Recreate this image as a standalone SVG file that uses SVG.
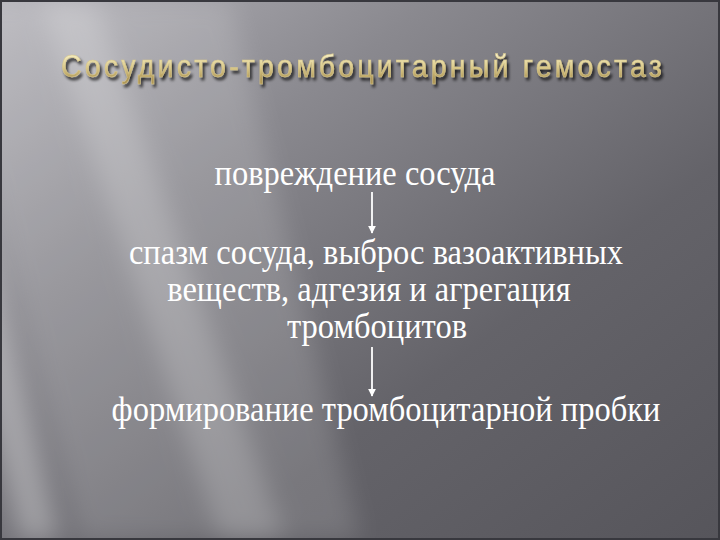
<svg xmlns="http://www.w3.org/2000/svg" width="720" height="540" viewBox="0 0 720 540">
  <defs>
    <linearGradient id="bg" x1="0" y1="0" x2="1" y2="1">
      <stop offset="0" stop-color="#b4b3b9"/>
      <stop offset="0.3" stop-color="#8a898f"/>
      <stop offset="0.65" stop-color="#646369"/>
      <stop offset="1" stop-color="#56555b"/>
    </linearGradient>
    <linearGradient id="title" x1="0" y1="-22" x2="0" y2="2" gradientUnits="userSpaceOnUse">
      <stop offset="0" stop-color="#f4ecc0"/>
      <stop offset="0.5" stop-color="#dccb8c"/>
      <stop offset="1" stop-color="#b09858"/>
    </linearGradient>
    <filter id="blur" x="-20%" y="-20%" width="140%" height="140%">
      <feGaussianBlur stdDeviation="12"/>
    </filter>
    <filter id="shadow" x="-5%" y="-30%" width="110%" height="170%">
      <feGaussianBlur in="SourceAlpha" stdDeviation="1.6"/>
      <feOffset dx="2" dy="3" result="o"/>
      <feComponentTransfer><feFuncA type="linear" slope="0.8"/></feComponentTransfer>
      <feMerge><feMergeNode/><feMergeNode in="SourceGraphic"/></feMerge>
    </filter>
    <marker id="arr" viewBox="0 0 10 10" refX="9" refY="5" markerWidth="4.5" markerHeight="4.5" markerUnits="strokeWidth" orient="auto">
      <path d="M0,0 L10,5 L0,10 z" fill="#ffffff"/>
    </marker>
    <style>
      .body { font-family: "Liberation Serif", "Times New Roman", serif; font-size: 32.5px; fill: #ffffff; text-anchor: middle; }
      .conn { stroke: #ffffff; stroke-width: 1.8; fill: none; marker-end: url(#arr); }
    </style>
  </defs>

  <rect x="0" y="0" width="720" height="540" fill="url(#bg)"/>
  <g opacity="0.3" filter="url(#blur)">
    <polygon points="-60,0 230,0 360,540 80,540" fill="#ffffff" opacity="0.45"/>
    <polygon points="40,0 95,0 285,540 220,540" fill="#ffffff"/>
    <polygon points="-80,120 -40,120 60,540 20,540" fill="#ffffff"/>
  </g>
  <rect x="1" y="1" width="718" height="538" fill="none" stroke="#38383e" stroke-width="2"/>

  <g id="title-node">
    <text transform="translate(61,77) scale(0.92,1)" x="0" y="0" font-family="Liberation Sans, Arial, sans-serif" font-size="31" fill="url(#title)" stroke="#d8c78a" stroke-width="0.5" textLength="653" lengthAdjust="spacing" filter="url(#shadow)">Сосудисто-тромбоцитарный гемостаз</text>
  </g>

  <g id="n1">
    <text class="body" transform="translate(355,185) scale(1,1.1)" x="0" y="0">повреждение сосуда</text>
  </g>
  <g id="n2">
    <text class="body" transform="translate(376,264) scale(1,1.1)" x="0" y="0">спазм сосуда, выброс вазоактивных</text>
    <text class="body" transform="translate(369,301) scale(1,1.1)" x="0" y="0">веществ, адгезия и агрегация</text>
    <text class="body" transform="translate(377,338) scale(1,1.1)" x="0" y="0">тромбоцитов</text>
  </g>
  <g id="n3">
    <text class="body" transform="translate(386,421) scale(1,1.1)" x="0" y="0">формирование тромбоцитарной пробки</text>
  </g>

  <g id="connectors">
    <line class="conn" x1="372" y1="192" x2="372" y2="233"/>
    <line class="conn" x1="372" y1="347" x2="372" y2="396"/>
  </g>
</svg>
